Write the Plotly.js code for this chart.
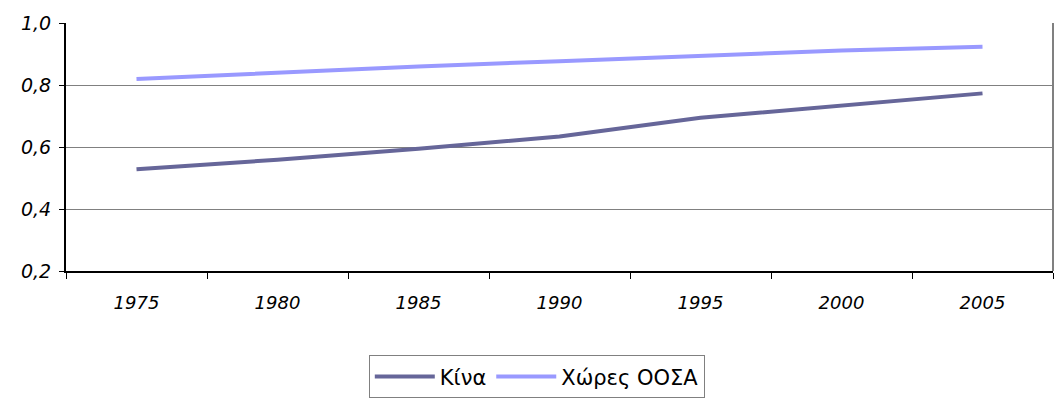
<!DOCTYPE html>
<html>
<head>
<meta charset="utf-8">
<script src="https://cdn.plot.ly/plotly-3.0.1.min.js"></script>
<style>
html,body{margin:0;padding:0;background:#fff;}
#chart{width:1057px;height:405px;}
</style>
</head>
<body>
<div id="chart"></div>
<script>
var years = ['1975', '1980', '1985', '1990', '1995', '2000', '2005'];
var china = [0.528, 0.559, 0.594, 0.634, 0.694, 0.732, 0.773];
var oecd = [0.819, 0.840, 0.860, 0.877, 0.894, 0.911, 0.923];
var yTicks = [0.2, 0.4, 0.6, 0.8, 1.0];

var traces = [
  {x: years, y: china, name: 'Κίνα', type: 'scatter', mode: 'lines',
   line: {color: '#666699', width: 4}},
  {x: years, y: oecd, name: 'Χώρες ΟΟΣΑ', type: 'scatter', mode: 'lines',
   line: {color: '#9999FF', width: 4}}
];

var layout = {
  width: 1057, height: 405,
  margin: {l: 66, r: 4, t: 23, b: 134},
  paper_bgcolor: '#ffffff',
  plot_bgcolor: '#ffffff',
  separators: ',.',
  font: {family: 'DejaVu Sans', color: '#000000'},
  showlegend: true,
  xaxis: {
    type: 'category',
    range: [-0.5, 6.5],
    tickson: 'boundaries',
    ticks: 'outside', ticklen: 6, tickcolor: '#000000', tickwidth: 1,
    showline: true, linecolor: '#000000', linewidth: 2,
    showgrid: false, zeroline: false,
    tickfont: {family: 'DejaVu Sans', size: 18, style: 'italic', color: '#000'},
    ticklabelstandoff: 14
  },
  yaxis: {
    range: [0.2, 1.0],
    tickvals: yTicks,
    tickformat: '.1f',
    ticks: 'outside', ticklen: 5, tickcolor: '#000000', tickwidth: 1,
    showline: true, linecolor: '#000000', linewidth: 2,
    showgrid: true, gridcolor: '#808080', gridwidth: 1,
    zeroline: false,
    ticklabelstandoff: 4,
    tickfont: {family: 'DejaVu Sans', size: 19, style: 'italic', color: '#000'}
  },
  shapes: [
    {type: 'line', xref: 'paper', yref: 'paper', x0: 1, x1: 1, y0: 0, y1: 1,
     line: {color: '#808080', width: 2}}
  ],
  legend: {
    orientation: 'h',
    x: 0.477, xanchor: 'center',
    y: -0.34, yanchor: 'top',
    bordercolor: '#808080', borderwidth: 1,
    bgcolor: '#ffffff',
    font: {family: 'DejaVu Sans', size: 21, color: '#000'},
    itemwidth: 60
  }
};

Plotly.newPlot('chart', traces, layout, {displayModeBar: false, staticPlot: true});
</script>
</body>
</html>
